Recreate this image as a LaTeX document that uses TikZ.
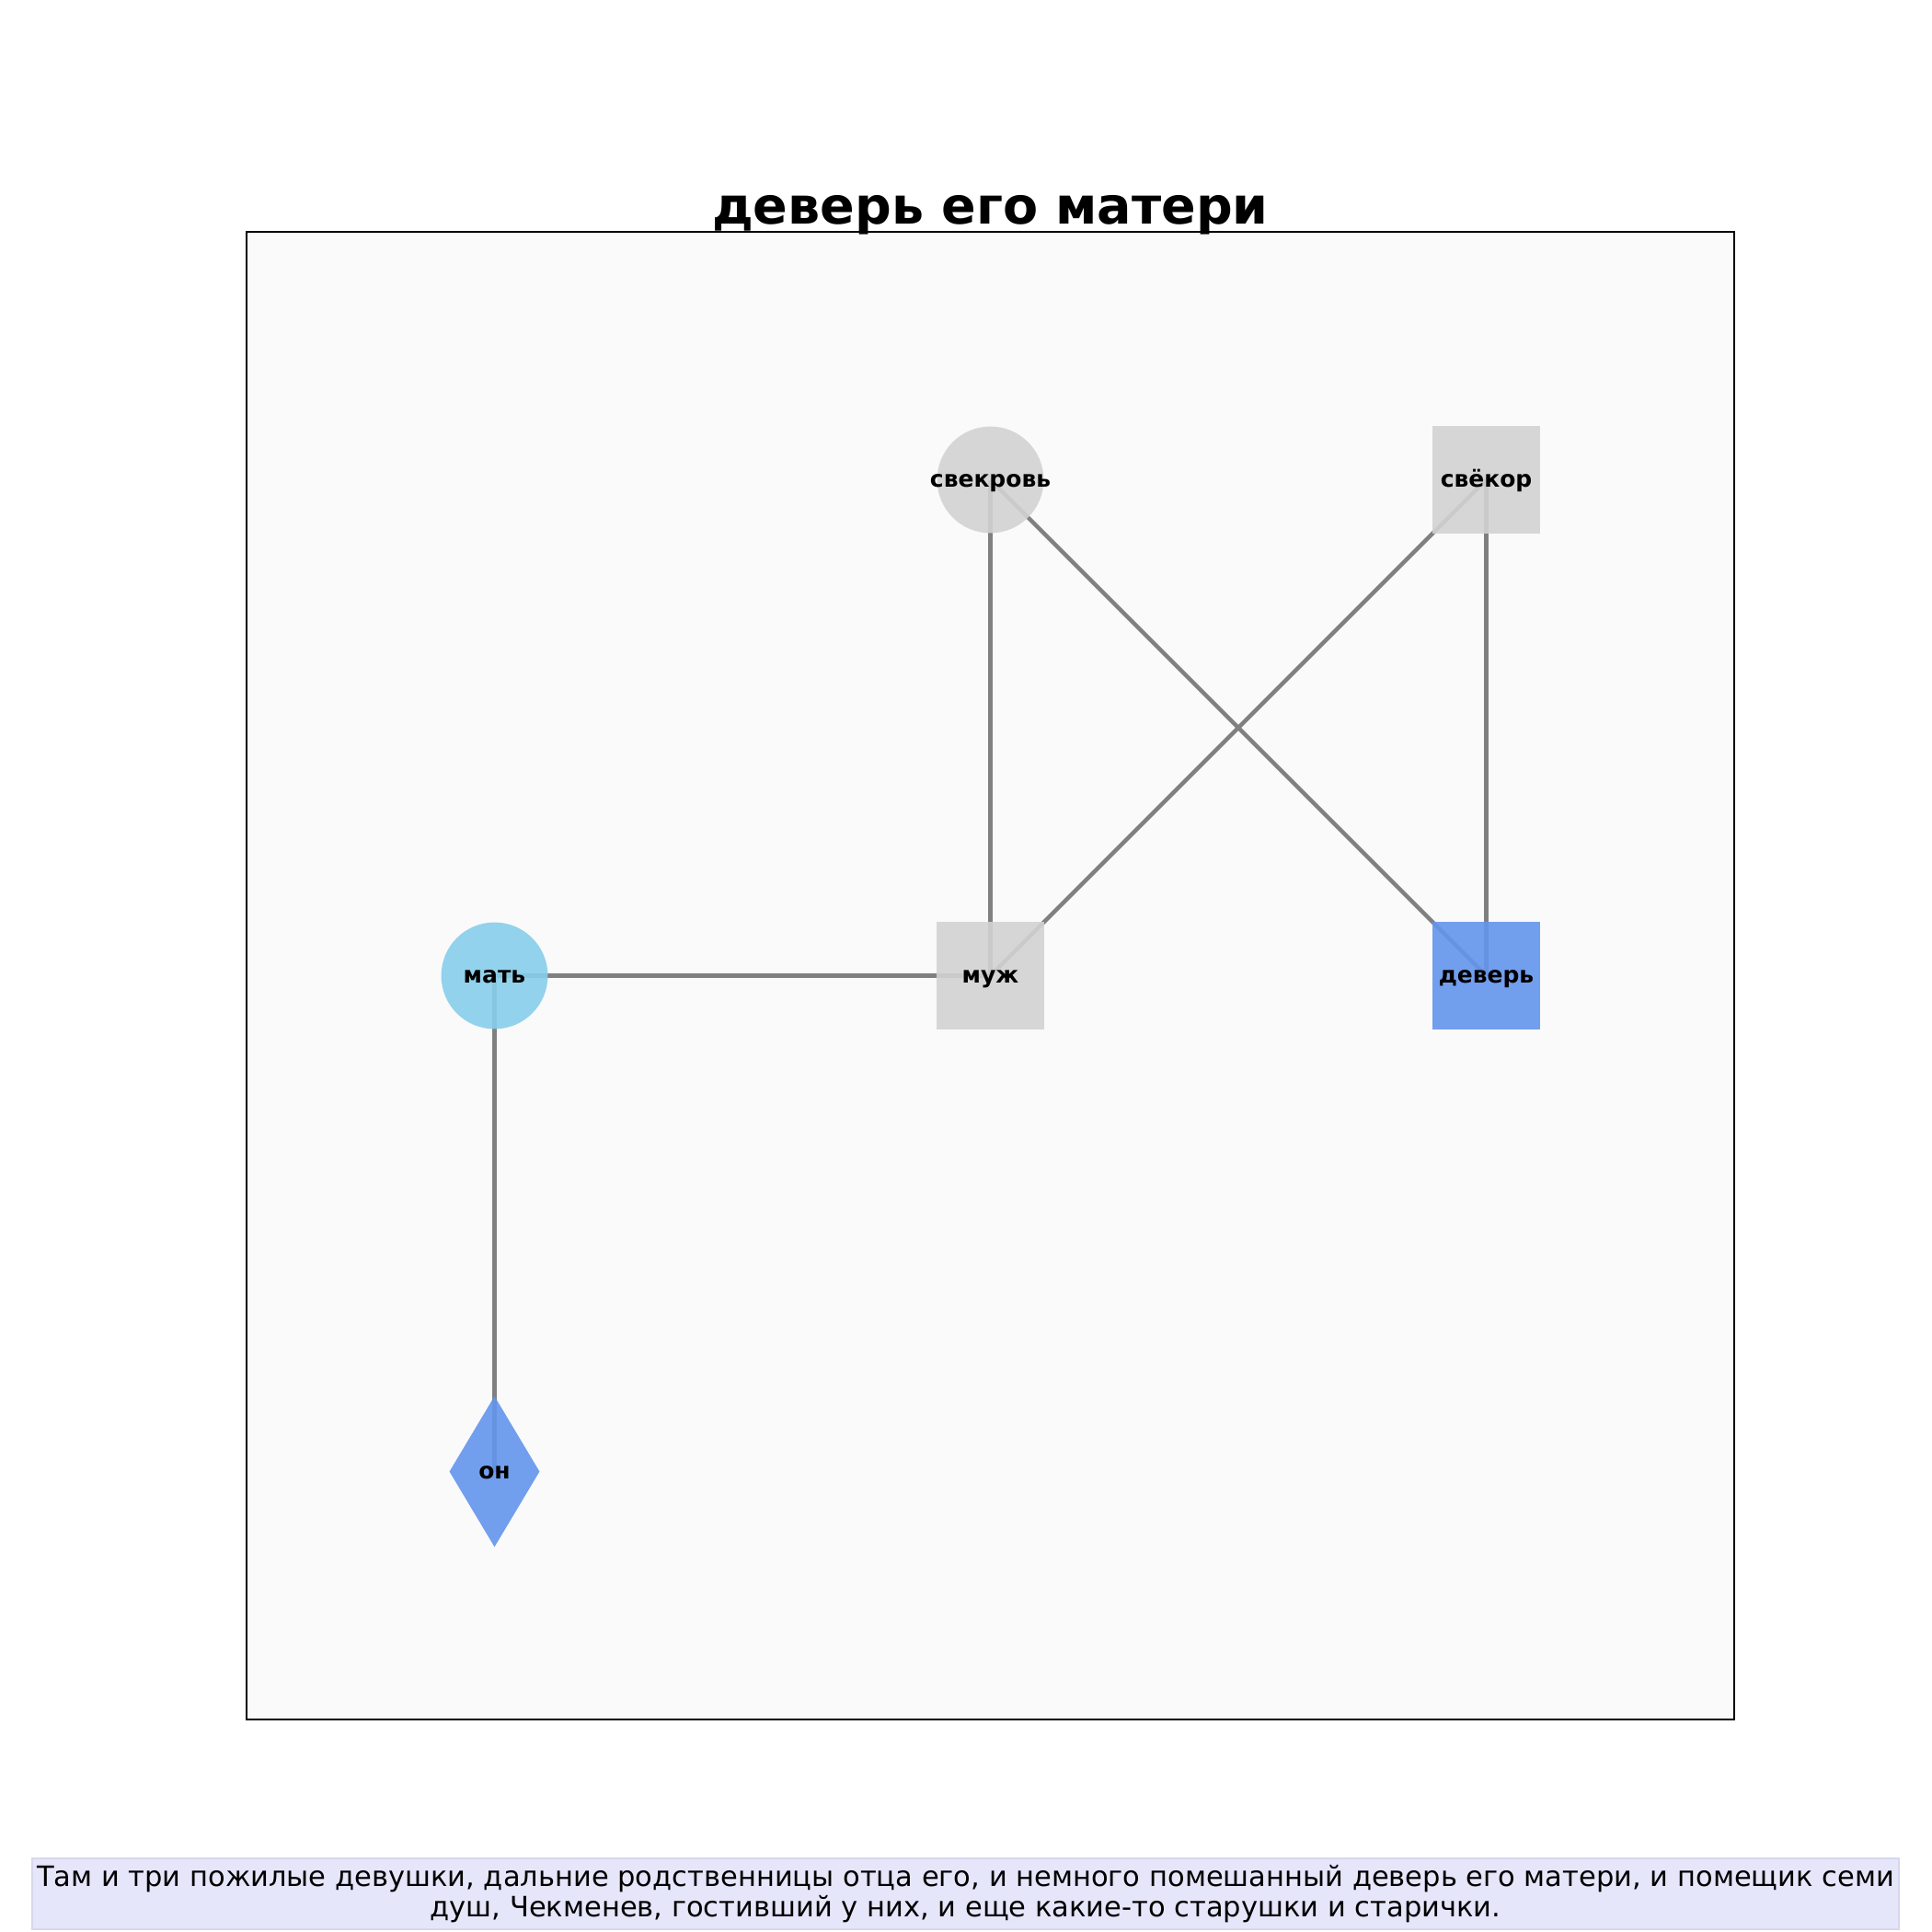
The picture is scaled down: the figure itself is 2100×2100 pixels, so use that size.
\documentclass[tikz,border=0pt]{standalone}
\usepackage{fontspec}
\setmainfont{DejaVu Sans}
\usetikzlibrary{shapes.geometric}
\definecolor{framefill}{RGB}{250,250,250}
\definecolor{lgray}{RGB}{211,211,211}
\definecolor{skyb}{RGB}{135,206,235}
\definecolor{cornfl}{RGB}{100,149,237}
\definecolor{lav}{RGB}{230,230,250}
\definecolor{lavedge}{RGB}{215,215,238}
\definecolor{edgegray}{RGB}{128,128,128}
\tikzset{
  lbl/.style={inner sep=0pt, text height=5.8bp, text depth=0pt,
    font=\fontsize{9bp}{11bp}\selectfont\bfseries},
  base/.style={inner sep=0pt, outer sep=0pt, fill opacity=0.9},
  circ/.style={base, circle, minimum size=0.58in},
  sq/.style={base, rectangle, minimum width=0.59in, minimum height=0.59in},
  dia/.style={base, diamond, minimum width=0.49in, minimum height=0.82in},
  link/.style={draw=edgegray, line width=1.6bp},
}
\begin{document}
\begin{tikzpicture}[x=0.005in, y=-0.005in]
\useasboundingbox (0,0) rectangle (2100,2100);
\fill[white] (0,0) rectangle (2100,2100);
\draw[fill=framefill, draw=black, line width=0.45bp] (268,252) rectangle (1885,1869);
\node[font=\fontsize{20bp}{24bp}\selectfont\bfseries, anchor=base, inner sep=0pt] (title) at (1076.5,243) {деверь его матери};
% node positions
\coordinate (psv) at (1076.5,521.5);
\coordinate (psk) at (1615.5,521.5);
\coordinate (pm) at (537.5,1060.5);
\coordinate (pmu) at (1076.5,1060.5);
\coordinate (pd) at (1615.5,1060.5);
\coordinate (po) at (537.5,1599.5);
% edges
\draw[link] (psv) -- (pmu);
\draw[link] (psv) -- (pd);
\draw[link] (psk) -- (pmu);
\draw[link] (psk) -- (pd);
\draw[link] (pm) -- (pmu);
\draw[link] (pm) -- (po);
% nodes
\node[circ, fill=lgray, label={[lbl]center:свекровь}] (svekrov) at (psv) {};
\node[sq, fill=lgray, label={[lbl]center:свёкор}] (svekor) at (psk) {};
\node[circ, fill=skyb, label={[lbl]center:мать}] (mat) at (pm) {};
\node[sq, fill=lgray, label={[lbl]center:муж}] (muzh) at (pmu) {};
\node[sq, fill=cornfl, label={[lbl]center:деверь}] (dever) at (pd) {};
\node[dia, fill=cornfl, label={[lbl]center:он}] (on) at (po) {};
% caption
\node[draw=lavedge, fill=lav, line width=0.6bp, inner sep=0pt, minimum width=2029*0.005in, minimum height=0.385in] (capbox) at (1049.5,2058.5) {};
\node[inner sep=0pt, align=center, font=\fontsize{11bp}{11.9bp}\selectfont] (cap) at (1049.5,2058.5) {Там и три пожилые девушки, дальние родственницы отца его, и немного помешанный деверь его матери, и помещик семи\\душ, Чекменев, гостивший у них, и еще какие-то старушки и старички.};
\end{tikzpicture}
\end{document}
